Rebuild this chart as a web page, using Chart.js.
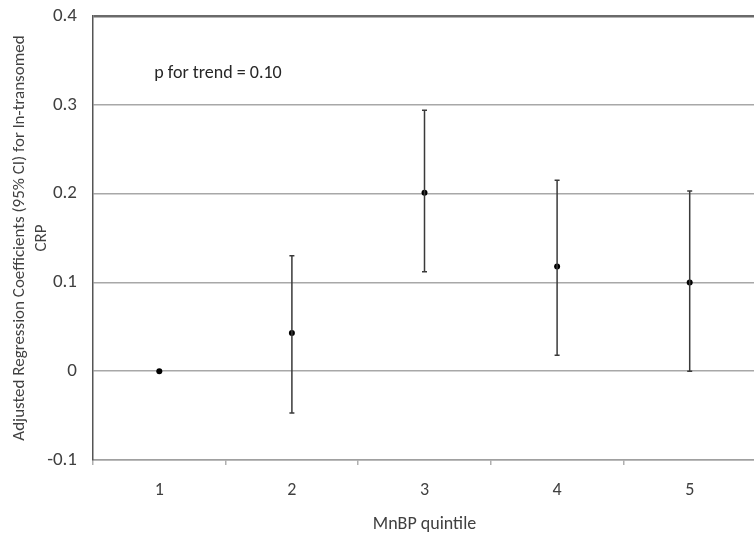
<!DOCTYPE html>
<html>
<head>
<meta charset="utf-8">
<script src="https://cdn.jsdelivr.net/npm/chart.js@4"></script>
<style>
    html, body { margin: 0; padding: 0; background: #fff; overflow: hidden; }
    #wrap { position: absolute; left: 0; top: 0; width: 760px; height: 533px; }
</style>
</head>
<body>
<div id="wrap"><canvas id="chart"></canvas></div>
<script>
const quintiles = ["1", "2", "3", "4", "5"];
const coefficients = [0, 0.043, 0.201, 0.118, 0.100];
const upperCI = [0, 0.130, 0.294, 0.215, 0.203];
const lowerCI = [0, -0.047, 0.112, 0.018, 0.000];
const yTicks = [-0.1, 0, 0.1, 0.2, 0.3, 0.4];
const trendText = "p for trend = 0.10";
const yTitle = ["Adjusted Regression Coefficients (95% CI) for ln-transomed", "CRP"];
const xTitle = "MnBP quintile";

const FONT = "Carlito, Lato, sans-serif";
const TEXT_COLOR = "#404040";

//draws the CI whiskers from the two bound arrays
const errorBars = {
    id: "errorBars",
    afterDatasetsDraw(chart) {
        const ctx = chart.ctx;
        const x = chart.scales.x;
        const y = chart.scales.y;
        ctx.save();
        ctx.strokeStyle = "#3a3a3a";
        ctx.lineWidth = 1.5;
        for (let i = 0; i < quintiles.length; i++) {
            if (upperCI[i] === lowerCI[i]) {
                continue;
            }
            const px = x.getPixelForValue(i);
            const top = y.getPixelForValue(upperCI[i]);
            const bottom = y.getPixelForValue(lowerCI[i]);
            ctx.beginPath();
            ctx.moveTo(px, top);
            ctx.lineTo(px, bottom);
            ctx.moveTo(px - 2.5, top);
            ctx.lineTo(px + 2.5, top);
            ctx.moveTo(px - 2.5, bottom);
            ctx.lineTo(px + 2.5, bottom);
            ctx.stroke();
        }
        ctx.restore();
    }
};

//the "p for trend" note, placed through the scales
const trendNote = {
    id: "trendNote",
    afterDraw(chart) {
        const ctx = chart.ctx;
        const px = chart.scales.x.getPixelForValue(0) - 5;
        const py = chart.scales.y.getPixelForValue(0.335);
        ctx.save();
        ctx.font = "18px " + FONT;
        ctx.fillStyle = "#262626";
        ctx.textBaseline = "middle";
        ctx.fillText(trendText, px, py);
        ctx.restore();
    }
};

const ctx = document.getElementById("chart").getContext("2d");
new Chart(ctx, {
    type: "line",
    data: {
        labels: quintiles,
        datasets: [{
            data: coefficients,
            showLine: false,
            pointRadius: 3,
            pointBackgroundColor: "#000",
            pointBorderColor: "#000",
            pointBorderWidth: 0
        }]
    },
    options: {
        responsive: true,
        maintainAspectRatio: false,
        animation: false,
        layout: { padding: { top: 16, left: 0, right: 0, bottom: 0 } },
        plugins: {
            legend: { display: false },
            tooltip: { enabled: false }
        },
        scales: {
            x: {
                type: "category",
                offset: true,
                grid: {
                    offset: true,
                    drawOnChartArea: false,
                    drawTicks: true,
                    tickLength: 5,
                    color: "#b0b0b0",
                    lineWidth: 1.5
                },
                border: { display: true, color: "#a0a0a0", width: 1.5 },
                ticks: {
                    color: TEXT_COLOR,
                    font: { family: FONT, size: 18 },
                    padding: 15
                },
                title: {
                    display: true,
                    text: xTitle,
                    color: TEXT_COLOR,
                    font: { family: FONT, size: 18, lineHeight: 1.0 },
                    padding: { top: 4, bottom: 0 }
                },
                afterFit(scale) { scale.height = 73; }
            },
            y: {
                min: -0.1,
                max: 0.4,
                afterBuildTicks(scale) {
                    scale.ticks = yTicks.map(v => ({ value: v }));
                },
                grid: {
                    drawTicks: false,
                    color: c => c.tick && Math.abs(c.tick.value - 0.4) < 1e-6 ? "#6a6a6a" : "#a8a8a8",
                    lineWidth: c => c.tick && Math.abs(c.tick.value - 0.4) < 1e-6 ? 2.5 : 1.5
                },
                border: { display: true, color: "#555", width: 1.5 },
                ticks: {
                    color: TEXT_COLOR,
                    font: { family: FONT, size: 19 },
                    padding: 16,
                    callback: v => String(Math.round(v * 10) / 10)
                },
                title: {
                    display: true,
                    text: yTitle,
                    color: TEXT_COLOR,
                    font: { family: FONT, size: 17, lineHeight: 1.3 },
                    padding: { top: 9, bottom: 0 }
                },
                afterFit(scale) {
                    scale.width = 93;
                    //keep the tick labels from pushing the plot area down
                    scale.paddingTop = 0;
                    scale.paddingBottom = 0;
                }
            }
        }
    },
    plugins: [errorBars, trendNote]
});
</script>
</body>
</html>
